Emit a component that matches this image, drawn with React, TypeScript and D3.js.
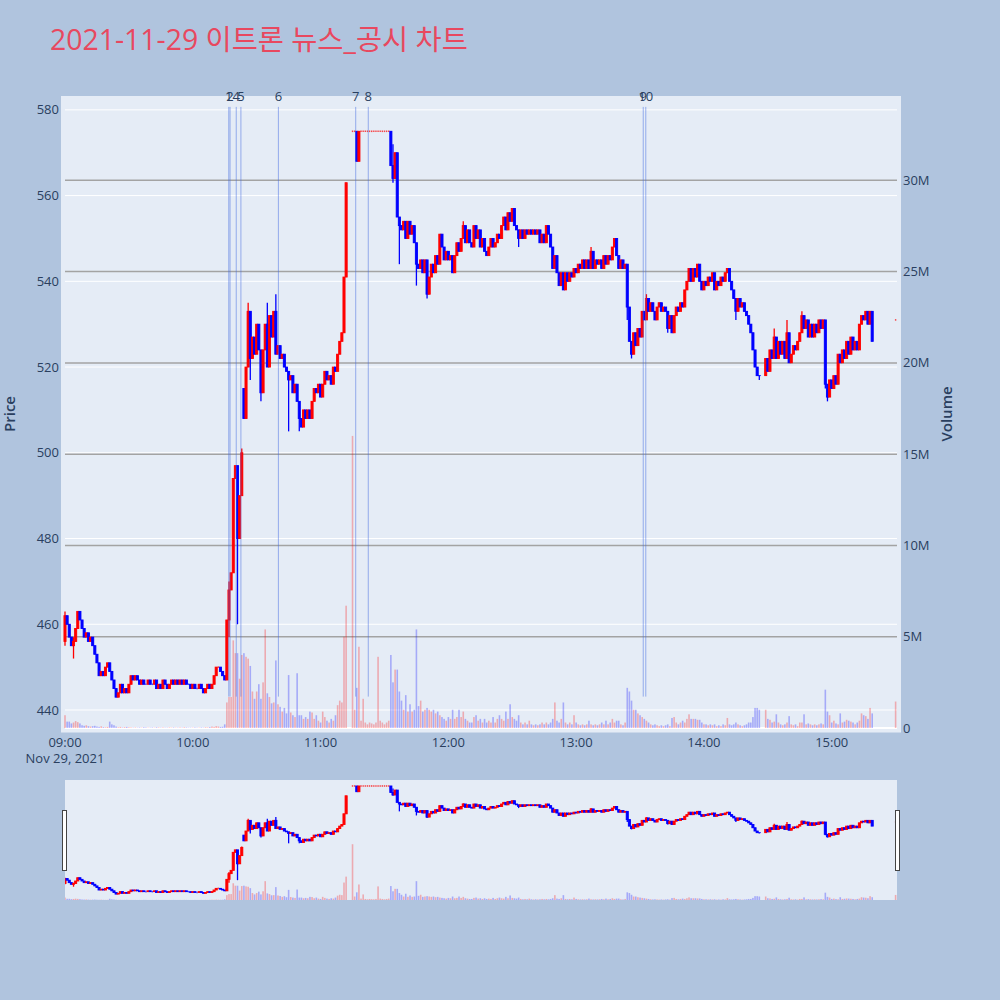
import React from 'react';
import * as d3 from 'd3';

const TITLE = '2021-11-29 이트론 뉴스_공시 차트';

// minute index (0 = 09:00) -> close price; null = no trade (VI halt)
const closes: (number | null)[] = [
  462, 460, 457, 455, 456, 459, 463, 461, 459, 457,
  458, 456, 457, 455, 453, 451, 448, 449, 448, 450,
  451, 449, 447, 445, 443, 444, 446, 444, 445, 444,
  446, 448, 447, 448, 447, 446, 447, 446, 446, 447,
  446, 446, 447, 445, 446, 445, 447, 446, 445, 446,
  447, 446, 447, 446, 447, 446, 447, 446, 446, 445,
  446, 445, 445, 446, 445, 444, 445, 446, 445, 446,
  448, 450, 450, 449, 448, 447, 461, 468, 472, 494,
  497, 480, 490, 500, 508, 520, 533, 522, 527, 523,
  530, 524, 514, 524, 530, 520, 532, 527, 533, 523,
  525, 522, 523, 520, 519, 517, 518, 514, 516, 512,
  508, 506, 510, 508, 510, 508, 512, 515, 514, 516,
  513, 516, 519, 517, 518, 516, 520, 519, 523, 526,
  528, 541, 563, null, null, 575, 575, 568, 575, 575,
  575, 575, 575, 575, 575, 575, 575, 575, 575, 575,
  575, 575, 575, 567, 564, 570, 555, 553, 552, 554,
  550, 554, 551, 553, 549, 544, 543, 545, 542, 545,
  537, 541, 544, 542, 546, 544, 551, 548, 545, 547,
  545, 546, 542, 546, 549, 547, 550, 553, 549, 552,
  549, 548, 553, 550, 552, 548, 550, 547, 546, 548,
  550, 548, 549, 551, 550, 553, 555, 552, 556, 554,
  557, 553, 552, 550, 552, 550, 552, 551, 552, 551,
  552, 551, 552, 549, 551, 549, 553, 551, 548, 543,
  546, 542, 539, 542, 538, 542, 540, 542, 541, 543,
  542, 544, 543, 545, 543, 545, 543, 547, 543, 545,
  544, 545, 543, 546, 544, 546, 545, 548, 550, 546,
  543, 545, 543, 544, 534, 526, 523, 528, 525, 529,
  527, 533, 531, 536, 533, 535, 533, 531, 534, 535,
  533, 534, 533, 529, 532, 528, 532, 534, 533, 535,
  534, 538, 540, 543, 540, 543, 541, 544, 540, 538,
  540, 539, 541, 540, 542, 538, 540, 539, 541, 540,
  542, 543, 540, 538, 536, 533, 536, 534, 535, 533,
  532, 530, 528, 524, 520, 518, 518, null, null, 522,
  519, 524, 522, 527, 522, 526, 523, 526, 522, 528,
  521, 523, 525, 524, 526, 528, 532, 529, 531, 527,
  530, 527, 530, 528, 531, 529, 531, 516, 513, 517,
  515, 518, 516, 523, 521, 524, 522, 526, 523, 527,
  524, 526, 524, 530, 532, 531, 533, 530, 533, 526,
];

// volume per minute, thousands of shares
const volumesK: (number | null)[] = [
  700, 350, 350, 250, 300, 380, 320, 250, 150, 120,
  150, 100, 80, 100, 120, 80, 60, 90, 50, 40,
  60, 350, 200, 150, 80, 40, 60, 30, 50, 60,
  40, 30, 20, 30, 20, 30, 20, 40, 30, 20,
  20, 30, 20, 40, 30, 20, 30, 20, 20, 30,
  20, 30, 20, 20, 30, 20, 40, 30, 20, 20,
  20, 30, 20, 20, 30, 20, 40, 30, 50, 80,
  60, 100, 80, 60, 70, 200, 1400, 1700, 1700, 4800,
  4100, 4100, 2700, 4000, 4100, 3900, 3800, 3400, 2000, 1600,
  2000, 2400, 1600, 2500, 5400, 1900, 1700, 1350, 1400, 3700,
  1300, 1160, 900, 1100, 800, 2900, 850, 700, 600, 3000,
  700, 700, 500, 600, 500, 900, 850, 500, 700, 400,
  300, 900, 600, 400, 300, 500, 400, 700, 1250, 1500,
  1400, 5000, 6700, null, null, 16000, 1000, 2200, 4450, 400,
  1600, 300, 200, 300, 250, 200, 300, 3900, 400, 300,
  200, 300, 400, 4000, 2500, 3200, 3200, 2000, 1500, 1000,
  1800, 900, 1300, 900, 1000, 5400, 1200, 1500, 900, 1000,
  1100, 1000, 900, 1000, 800, 900, 700, 600, 500, 400,
  600, 500, 1000, 500, 600, 1000, 600, 900, 500, 400,
  300, 300, 600, 700, 400, 500, 300, 500, 300, 400,
  300, 600, 300, 500, 700, 500, 400, 900, 500, 1300,
  600, 500, 400, 700, 300, 200, 300, 200, 400, 200,
  150, 200, 150, 200, 300, 200, 300, 200, 300, 500,
  1400, 400, 300, 500, 1400, 300, 200, 300, 200, 700,
  300, 200, 150, 200, 150, 200, 400, 200, 150, 200,
  150, 200, 300, 200, 400, 200, 300, 500, 300, 400,
  400, 200, 150, 300, 2200, 2000, 1500, 1000, 1000, 800,
  700, 600, 500, 400, 300, 200, 150, 200, 150, 100,
  150, 100, 150, 200, 100, 550, 600, 300, 200, 300,
  400, 300, 500, 750, 500, 500, 500, 450, 450, 300,
  200, 200, 150, 200, 150, 200, 100, 150, 100, 200,
  150, 550, 200, 150, 200, 300, 200, 150, 100, 150,
  200, 300, 300, 600, 1100, 1100, 1000, null, null, 1000,
  500, 450, 300, 350, 750, 300, 200, 150, 200, 300,
  650, 200, 150, 200, 100, 300, 300, 750, 200, 250,
  200, 150, 200, 150, 200, 250, 200, 2100, 900, 700,
  300, 400, 250, 200, 800, 300, 350, 450, 400, 350,
  300, 200, 300, 400, 800, 700, 650, 500, 1100, 800,
];

const firstOpen = 456;
// minutes whose open differs from the previous close: [minute, open]
const openOverrides: [number, number][] = [[84, 515], [135, 575]];
// extra wicks: [minute, high, low]
const wicks: [number, number, number][] = [
  [0, 463, 455], [4, 457, 452], [77, 470, 457], [81, 497, 460], [83, 501, 490],
  [86, 535, 520], [87, 533, 517], [92, 524, 512], [95, 535, 520], [99, 537, 523],
  [105, 519, 505], [110, 512, 505], [154, 572, 563], [157, 555, 544], [165, 549, 539],
  [170, 545, 536], [187, 554, 550], [213, 552, 548], [247, 548, 543], [258, 550, 548],
  [264, 544, 531], [266, 526, 522], [273, 537, 531], [283, 533, 528], [315, 536, 531],
  [326, 518, 517], [333, 529, 522], [339, 531, 522], [346, 533, 528], [357, 531, 515],
  [358, 516, 512],
];

// closing auction (15:30)
const auctionMinute = 390;
const auctionPrice = 531;
const auctionVolumeK = 1450;

// news / disclosure markers
const newsMinutes = [76.9, 77.5, 80.4, 82.6, 100.2, 136.5, 142.4, 271.5, 272.7];
const newsLabels = ['1', '2', '4', '5', '6', '7', '8', '9', '10'];

const priceTicks = [440, 460, 480, 500, 520, 540, 560, 580];
const volumeTicksM = [0, 5, 10, 15, 20, 25, 30];
const timeTickMinutes = [0, 60, 120, 180, 240, 300, 360];

const FONT = "'Open Sans', 'Noto Sans CJK KR', verdana, arial, sans-serif";
const INC = '#ff0000';
const DEC = '#0000ff';

const BASE = new Date(2021, 10, 29, 9, 0, 0).getTime();
const toDate = (m: number) => new Date(BASE + m * 60000);

type Candle = { m: number; o: number; h: number; l: number; c: number; v: number; inc: boolean };

function buildCandles(): Candle[] {
  const ov = new Map(openOverrides);
  const wk = new Map(wicks.map((w) => [w[0], w]));
  const out: Candle[] = [];
  let prevClose = firstOpen;
  let prevInc = true;
  const push = (m: number, c: number, vK: number, forcedOpen?: number) => {
    const o = forcedOpen ?? ov.get(m) ?? prevClose;
    let inc: boolean;
    if (c > o) inc = true;
    else if (c < o) inc = false;
    else if (c > prevClose) inc = true;
    else if (c < prevClose) inc = false;
    else inc = prevInc;
    let h = Math.max(o, c);
    let l = Math.min(o, c);
    const w = wk.get(m);
    if (w) { h = Math.max(h, w[1]); l = Math.min(l, w[2]); }
    out.push({ m, o, h, l, c, v: vK * 1000, inc });
    prevClose = c;
    prevInc = inc;
  };
  closes.forEach((c, m) => {
    if (c == null) return;
    push(m, c, volumesK[m] ?? 0, m === 0 ? firstOpen : undefined);
  });
  push(auctionMinute, auctionPrice, auctionVolumeK, auctionPrice);
  return out;
}

const candles = buildCandles();

const PLOT = { left: 65, right: 897, top: 100, bottom: 728 };
const SLIDER = { top: 780, bottom: 900 };
const PRICE_DOMAIN: [number, number] = [435.8, 582.3];
const VOL_MAX = 34.4e6;

export default function App() {
  const x = d3.scaleTime().domain([toDate(0), toDate(390.65)]).range([PLOT.left, PLOT.right]);
  const yP = d3.scaleLinear().domain(PRICE_DOMAIN).range([PLOT.bottom, PLOT.top]);
  const yV = d3.scaleLinear().domain([0, VOL_MAX]).range([PLOT.bottom, PLOT.top]);
  const sP = d3.scaleLinear().domain(PRICE_DOMAIN).range([SLIDER.bottom, SLIDER.top]);
  const sV = d3.scaleLinear().domain([0, VOL_MAX]).range([SLIDER.bottom, SLIDER.top]);
  const fmt = d3.timeFormat('%H:%M');
  const plotH = PLOT.bottom - PLOT.top;

  const renderVolume = (yv: d3.ScaleLinear<number, number>, key: string) =>
    candles.map((d) => {
      const cx = x(toDate(d.m));
      const y0 = yv(0);
      const y1 = yv(d.v);
      return (
        <rect key={key + d.m} x={cx - 0.8} width={1.6} y={y1} height={Math.max(0, y0 - y1)}
          fill={d.inc ? 'rgba(255,0,0,0.28)' : 'rgba(0,0,255,0.28)'} />
      );
    });

  const renderCandles = (yp: d3.ScaleLinear<number, number>, key: string) =>
    candles.map((d) => {
      const cx = x(toDate(d.m));
      const col = d.inc ? INC : DEC;
      if (d.h === d.l) {
        const yy = yp(d.c);
        return (
          <line key={key + d.m} x1={cx - 0.7} x2={cx + 0.7} y1={yy} y2={yy} stroke={col} strokeWidth={1.6} opacity={0.7} />
        );
      }
      const top = yp(Math.max(d.o, d.c));
      const bot = yp(Math.min(d.o, d.c));
      return (
        <g key={key + d.m}>
          <line x1={cx} x2={cx} y1={yp(d.h)} y2={yp(d.l)} stroke={col} strokeWidth={1.3} />
          <rect x={cx - 1.05} width={2.1} y={top} height={Math.max(0.01, bot - top)}
            fill={col} stroke={col} strokeWidth={0.9} />
        </g>
      );
    });

  return (
    <svg width={1000} height={1000} style={{ position: 'absolute', left: 0, top: 0, fontFamily: FONT }}>
      <defs>
        <clipPath id="plotclip"><rect x={61} y={96} width={840} height={636} /></clipPath>
        <clipPath id="sliderclip"><rect x={PLOT.left} y={SLIDER.top} width={PLOT.right - PLOT.left} height={SLIDER.bottom - SLIDER.top} /></clipPath>
      </defs>
      <rect x={0} y={0} width={1000} height={1000} fill="#b0c4de" />
      <text x={50} y={50} fontSize={28.4} fill="#e8485f" fontFamily={FONT}>{TITLE}</text>

      {/* plot background */}
      <rect x={61} y={96} width={840} height={636.5} fill="#e5ecf6" />

      {/* price grid */}
      {priceTicks.map((p) => (
        <line key={'pg' + p} x1={PLOT.left} x2={PLOT.right} y1={yP(p)} y2={yP(p)} stroke="#ffffff" strokeWidth={1} />
      ))}
      {/* volume grid */}
      {volumeTicksM.map((v) => (
        <line key={'vg' + v} x1={PLOT.left} x2={PLOT.right} y1={yV(v * 1e6)} y2={yV(v * 1e6)}
          stroke={v === 0 ? '#ffffff' : '#a3a3a3'} strokeWidth={v === 0 ? 2 : 1.5} />
      ))}

      <g clipPath="url(#plotclip)">
        {renderVolume(yV, 'v')}
        {renderCandles(yP, 'c')}
      </g>

      {/* news lines */}
      {newsMinutes.map((m, i) => {
        const lx = x(toDate(m));
        return (
          <g key={'n' + i}>
            <line x1={lx} x2={lx} y1={PLOT.bottom - 0.05 * plotH} y2={PLOT.bottom - 0.989 * plotH}
              stroke="rgba(65,105,225,0.5)" strokeWidth={1} />
            <text x={lx} y={101} fontSize={13} fill="#2a3f5f" textAnchor="middle">{newsLabels[i]}</text>
          </g>
        );
      })}

      {/* left axis */}
      {priceTicks.map((p) => (
        <text key={'pt' + p} x={59} y={yP(p)} dy="0.35em" fontSize={13} fill="#2a3f5f" textAnchor="end">{p}</text>
      ))}
      {/* right axis */}
      {volumeTicksM.map((v) => (
        <text key={'vt' + v} x={903} y={yV(v * 1e6)} dy="0.35em" fontSize={13} fill="#2a3f5f" textAnchor="start">
          {v === 0 ? '0' : v + 'M'}
        </text>
      ))}
      {/* x axis */}
      {timeTickMinutes.map((m) => (
        <text key={'xt' + m} x={x(toDate(m))} y={747} fontSize={13} fill="#2a3f5f" textAnchor="middle">{fmt(toDate(m))}</text>
      ))}
      <text x={x(toDate(0))} y={763} fontSize={13} fill="#2a3f5f" textAnchor="middle">Nov 29, 2021</text>

      <text transform="translate(15,414) rotate(-90)" fontSize={15} fontWeight={600} fill="#2a3f5f" textAnchor="middle">Price</text>
      <text transform="translate(952,414) rotate(-90)" fontSize={15} fontWeight={600} fill="#2a3f5f" textAnchor="middle">Volume</text>

      {/* range slider */}
      <rect x={PLOT.left} y={SLIDER.top} width={PLOT.right - PLOT.left} height={SLIDER.bottom - SLIDER.top} fill="#e5ecf6" />
      <g clipPath="url(#sliderclip)">
        {renderVolume(sV, 'sv')}
        {renderCandles(sP, 'sc')}
      </g>
      <rect x={62.5} y={810.5} width={4} height={60} fill="#ffffff" stroke="#444" strokeWidth={1} />
      <rect x={895.5} y={810.5} width={4} height={60} fill="#ffffff" stroke="#444" strokeWidth={1} />
    </svg>
  );
}
